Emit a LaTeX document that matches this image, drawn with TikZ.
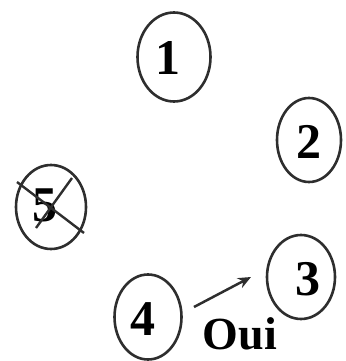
\documentclass[tikz,border=0pt]{standalone}
\usepackage{fontspec}
\setmainfont{Liberation Serif}
\usetikzlibrary{shapes.geometric,arrows.meta}
\definecolor{ink}{HTML}{2E2E2E}
\tikzset{
  ring/.style={draw=ink, line width=2.6pt, ellipse, inner sep=0pt},
  digit/.style={font=\fontsize{50}{50}\selectfont\bfseries, text=black, inner sep=0pt},
  conn/.style={draw=ink, line width=2.5pt, -{Stealth[length=13pt,width=11pt]}},
  crossline/.style={draw=ink, line width=2.4pt}
}
\begin{document}
\begin{tikzpicture}[x=1pt,y=-1pt]
\useasboundingbox (0,0) rectangle (345,361);
% rings
\node[ring, minimum width=73pt, minimum height=89pt] (n1) at (174,57) {};
\node[ring, minimum width=64pt, minimum height=84pt] (n2) at (309,140) {};
\node[ring, minimum width=70pt, minimum height=84pt] (n5) at (51,207) {};
\node[ring, minimum width=67pt, minimum height=85pt] (n4) at (148,317) {};
\node[ring, minimum width=68pt, minimum height=84pt] (n3) at (301,277) {};
% digits
\node[digit] (d1) at (168,58) {1};
\node[digit] (d2) at (309,142) {2};
\node[digit] (d5) at (45,205) {5};
\node[digit] (d4) at (143,319) {4};
\node[digit] (d3) at (308,279) {3};
% cross over 5
\coordinate (x1) at (17,182);
\coordinate (x2) at (84,233);
\coordinate (x3) at (72,178);
\coordinate (x4) at (36,228);
\draw[crossline] (x1) -- (x2);
\draw[crossline] (x3) -- (x4);
% arrow
\coordinate (a1) at (194,307);
\coordinate (a2) at (251,277);
\draw[conn] (a1) -- (a2);
\node[font=\fontsize{46}{46}\selectfont\bfseries, inner sep=0pt] (oui) at (240,334) {Oui};
\end{tikzpicture}
\end{document}
